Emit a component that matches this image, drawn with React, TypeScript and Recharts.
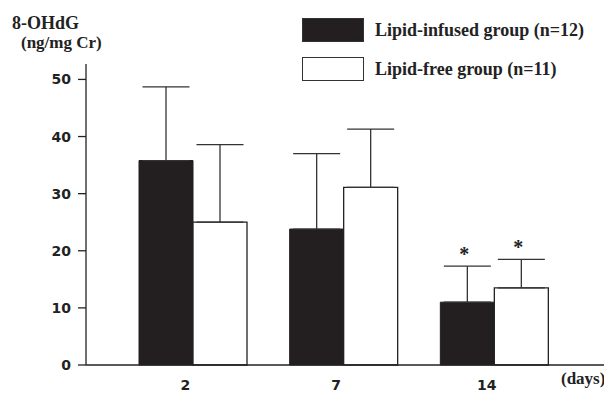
import { BarChart, Bar, XAxis, YAxis, ErrorBar, LabelList } from "recharts";

const days = ["2", "7", "14"];
const lipidInfused = [35.8, 23.8, 11.0];
const lipidInfusedSd = [12.9, 13.2, 6.3];
const lipidFree = [25.0, 31.1, 13.5];
const lipidFreeSd = [13.6, 10.2, 5.0];
const infusedMarks = ["", "", "*"];
const freeMarks = ["", "", "*"];
const yTicks = [0, 10, 20, 30, 40, 50];

const data = days.map((day, i) => ({
  day,
  infused: lipidInfused[i],
  infusedErr: [0, lipidInfusedSd[i]],
  infusedMark: infusedMarks[i],
  free: lipidFree[i],
  freeErr: [0, lipidFreeSd[i]],
  freeMark: freeMarks[i],
}));

const serif = '"Liberation Serif", "Times New Roman", serif';
const sans = '"DejaVu Sans", Arial, sans-serif';

// asterisk sits above the error bar cap; px per unit taken from the bar itself
function starLabel(means: number[], sds: number[]) {
  return (props: any) => {
    const { x, y, width, height, value, index } = props;
    if (!value) return null;
    const perUnit = Math.abs(height) / means[index];
    const capY = y - sds[index] * perUnit;
    return (
      <text
        x={x + width / 2 - 3}
        y={capY - 5}
        textAnchor="middle"
        fontFamily={serif}
        fontWeight="bold"
        fontSize={20}
        fill="#222"
      >
        {value}
      </text>
    );
  };
}

const legendItems = [
  { label: "Lipid-infused group (n=12)", fill: "#231f20", top: 18 },
  { label: "Lipid-free group (n=11)", fill: "#ffffff", top: 57 },
];

export default function App() {
  return (
    <div style={{ position: "absolute", left: 0, top: 0, width: 604, height: 394, background: "#fff" }}>
      <BarChart
        width={604}
        height={394}
        data={data}
        margin={{ top: 64, right: 0, left: 0, bottom: 0 }}
        barGap={0}
        barSize={54}
      >
        <XAxis
          dataKey="day"
          height={29}
          padding={{ left: 32, right: 34 }}
          tickLine={false}
          tickMargin={9}
          axisLine={{ stroke: "#222", strokeWidth: 1.3 }}
          tick={{ fill: "#222", fontFamily: sans, fontWeight: "bold", fontSize: 14, dx: -8 }}
        />
        <YAxis
          width={86}
          domain={[0, 52.7]}
          ticks={yTicks}
          tickSize={8}
          tickMargin={7}
          axisLine={{ stroke: "#222", strokeWidth: 1.3 }}
          tickLine={{ stroke: "#222", strokeWidth: 1.3 }}
          tick={{ fill: "#222", fontFamily: sans, fontWeight: "bold", fontSize: 14 }}
        />
        <Bar dataKey="infused" fill="#231f20" stroke="#231f20" isAnimationActive={false}>
          <ErrorBar dataKey="infusedErr" width={23.5} stroke="#333" strokeWidth={1.3} direction="y" />
          <LabelList dataKey="infusedMark" content={starLabel(lipidInfused, lipidInfusedSd)} />
        </Bar>
        <Bar dataKey="free" fill="#ffffff" stroke="#222" strokeWidth={1.3} isAnimationActive={false}>
          <ErrorBar dataKey="freeErr" width={23.5} stroke="#333" strokeWidth={1.3} direction="y" />
          <LabelList dataKey="freeMark" content={starLabel(lipidFree, lipidFreeSd)} />
        </Bar>
      </BarChart>

      <div style={{ position: "absolute", left: 12, top: 13, fontFamily: serif, fontWeight: "bold", fontSize: 18, color: "#222", lineHeight: "20px" }}>
        8-OHdG
      </div>
      <div style={{ position: "absolute", left: 21, top: 33, fontFamily: serif, fontWeight: "bold", fontSize: 17, color: "#222", lineHeight: "20px" }}>
        (ng/mg Cr)
      </div>
      <div style={{ position: "absolute", left: 561, top: 369, fontFamily: serif, fontWeight: "bold", fontSize: 17, color: "#222", lineHeight: "20px" }}>
        (days)
      </div>

      {legendItems.map((item) => (
        <div key={item.label} style={{ position: "absolute", left: 302, top: item.top, display: "flex", alignItems: "center" }}>
          <div style={{ width: 60, height: 22, background: item.fill, border: "1px solid #333" }} />
          <span style={{ marginLeft: 11, fontFamily: serif, fontWeight: "bold", fontSize: 18, color: "#222" }}>{item.label}</span>
        </div>
      ))}
    </div>
  );
}
